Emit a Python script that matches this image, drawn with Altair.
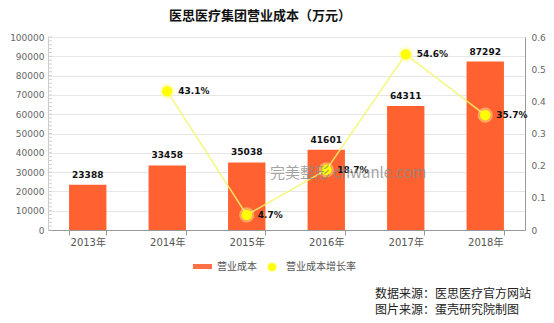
import altair as alt
import pandas as pd

years = ["2013年", "2014年", "2015年", "2016年", "2017年", "2018年"]
cost = [23388, 33458, 35038, 41601, 64311, 87292]
growth_years = ["2014年", "2015年", "2016年", "2017年", "2018年"]
growth = [0.431, 0.047, 0.187, 0.546, 0.357]
growth_labels = ["43.1%", "4.7%", "18.7%", "54.6%", "35.7%"]
left_ticks = [0, 10000, 20000, 30000, 40000, 50000, 60000, 70000, 80000, 90000, 100000]
right_ticks = [0, 0.1, 0.2, 0.3, 0.4, 0.5, 0.6]
minor_ticks = list(range(0, 100001, 2000))

title = "医思医疗集团营业成本（万元）"
legend_names = ["营业成本", "营业成本增长率"]
source_lines = ["数据来源：医思医疗官方网站", "图片来源：蛋壳研究院制图"]
watermark = "完美整形 chwanle.com"

FONT = "DejaVu Sans, Noto Sans CJK SC"
CJK = "Noto Sans CJK SC"
ORANGE = "#FF6230"
YELLOW = "#FFFF00"

bars_df = pd.DataFrame({"year": years, "cost": cost})
growth_df = pd.DataFrame({"year": growth_years, "g": growth, "label": growth_labels})
minor_df = pd.DataFrame({"v": minor_ticks})

xscale = alt.Scale(domain=years, paddingInner=0.53, paddingOuter=0.265)
yleft = alt.Scale(domain=[0, 100000], nice=False)
yright = alt.Scale(domain=[0, 0.6], nice=False)

xaxis = alt.Axis(title=None, labelAngle=0, tickBand="extent", tickSize=5,
                 tickColor="#999", domainColor="#999", labelColor="#555",
                 labelFont=FONT, labelFontSize=10, labelPadding=2, grid=False)
laxis = alt.Axis(title=None, values=left_ticks, tickSize=0, labelPadding=4,
                 format="d", labelOverlap=False, labelFlush=False,
                 domainColor="#ccc", labelColor="#666", labelFont=FONT,
                 labelFontSize=9, gridColor="#e6e6e6", grid=True)
raxis = alt.Axis(title=None, orient="right", values=right_ticks, tickSize=0,
                 labelPadding=6, domainColor="#999", labelColor="#666",
                 labelFont=FONT, labelFontSize=9, grid=False,
                 labelOverlap=False, labelFlush=False,
                 labelExpr="datum.value == 0 ? '0' : format(datum.value, '.1f')")

X = alt.X("year:N", scale=xscale, sort=years, axis=xaxis)
YL = alt.Y("cost:Q", scale=yleft, axis=laxis)
YR = alt.Y("g:Q", scale=yright, axis=raxis)

bars = alt.Chart(bars_df).mark_bar(color=ORANGE).encode(x=X, y=YL)
bar_text = alt.Chart(bars_df).mark_text(
    font=FONT, fontSize=9, fontWeight="bold", color="#111", baseline="bottom", dy=-5
).encode(x=X, y=YL, text=alt.Text("cost:Q", format="d"))
minor = alt.Chart(minor_df).mark_rule(color="#d0d0d0", strokeWidth=1).encode(
    x=alt.value(0), x2=alt.value(4),
    y=alt.Y("v:Q", scale=yleft, axis=laxis),
)
left = alt.layer(bars, minor, bar_text)

line = alt.Chart(growth_df).mark_line(color="#F4F46A", strokeWidth=1.5, opacity=0.85).encode(
    x=X, y=YR)
glow = alt.Chart(growth_df).mark_circle(color="#FFFF88", size=230, opacity=0.45).encode(
    x=X, y=YR)
pts = alt.Chart(growth_df).mark_circle(color=YELLOW, size=110, opacity=1).encode(
    x=X, y=YR)
ptext = alt.Chart(growth_df).mark_text(
    font=FONT, fontSize=9, fontWeight="bold", color="#111", align="left",
    baseline="middle", dx=11
).encode(x=X, y=YR, text="label:N")
right = alt.layer(line, glow, pts, ptext)

one = pd.DataFrame({"a": [0]})
title_mark = alt.Chart(one).mark_text(font=CJK, fontSize=13, fontWeight="bold",
                                      color="#111", align="center", baseline="middle").encode(
    x=alt.value(212), y=alt.value(-21), text=alt.value(title))
wm = alt.Chart(one).mark_text(font=CJK, fontSize=15, color="#888", opacity=0.75,
                              align="left", baseline="middle").encode(
    x=alt.value(222), y=alt.value(136), text=alt.value(watermark))
leg_rect = alt.Chart(one).mark_rect(color=ORANGE, opacity=0.9).encode(
    x=alt.value(145), x2=alt.value(164), y=alt.value(227), y2=alt.value(232))
leg_t1 = alt.Chart(one).mark_text(font=CJK, fontSize=10, color="#555", align="left",
                                  baseline="middle").encode(
    x=alt.value(169), y=alt.value(230), text=alt.value(legend_names[0]))
leg_glow = alt.Chart(one).mark_circle(color="#FFFF88", size=120, opacity=0.5).encode(
    x=alt.value(224), y=alt.value(230))
leg_pt = alt.Chart(one).mark_circle(color=YELLOW, size=60, opacity=1).encode(
    x=alt.value(224), y=alt.value(230))
leg_t2 = alt.Chart(one).mark_text(font=CJK, fontSize=10, color="#555", align="left",
                                  baseline="middle").encode(
    x=alt.value(238), y=alt.value(230), text=alt.value(legend_names[1]))
src1 = alt.Chart(one).mark_text(font=CJK, fontSize=12, color="#222", align="left",
                                baseline="middle").encode(
    x=alt.value(327), y=alt.value(257), text=alt.value(source_lines[0]))
src2 = alt.Chart(one).mark_text(font=CJK, fontSize=12, color="#222", align="left",
                                baseline="middle").encode(
    x=alt.value(327), y=alt.value(273), text=alt.value(source_lines[1]))
deco = alt.layer(title_mark, wm, leg_rect, leg_t1, leg_glow, leg_pt, leg_t2, src1, src2)

chart = alt.layer(left, right, deco).resolve_scale(y="independent").properties(
    width=477, height=193,
    autosize=alt.AutoSizeParams(type="none"),
    padding={"left": 48, "top": 37, "right": 29, "bottom": 93},
    background="white",
).configure_view(stroke=None)

chart.save("out.html", embed_options={"renderer": "svg", "actions": False})
